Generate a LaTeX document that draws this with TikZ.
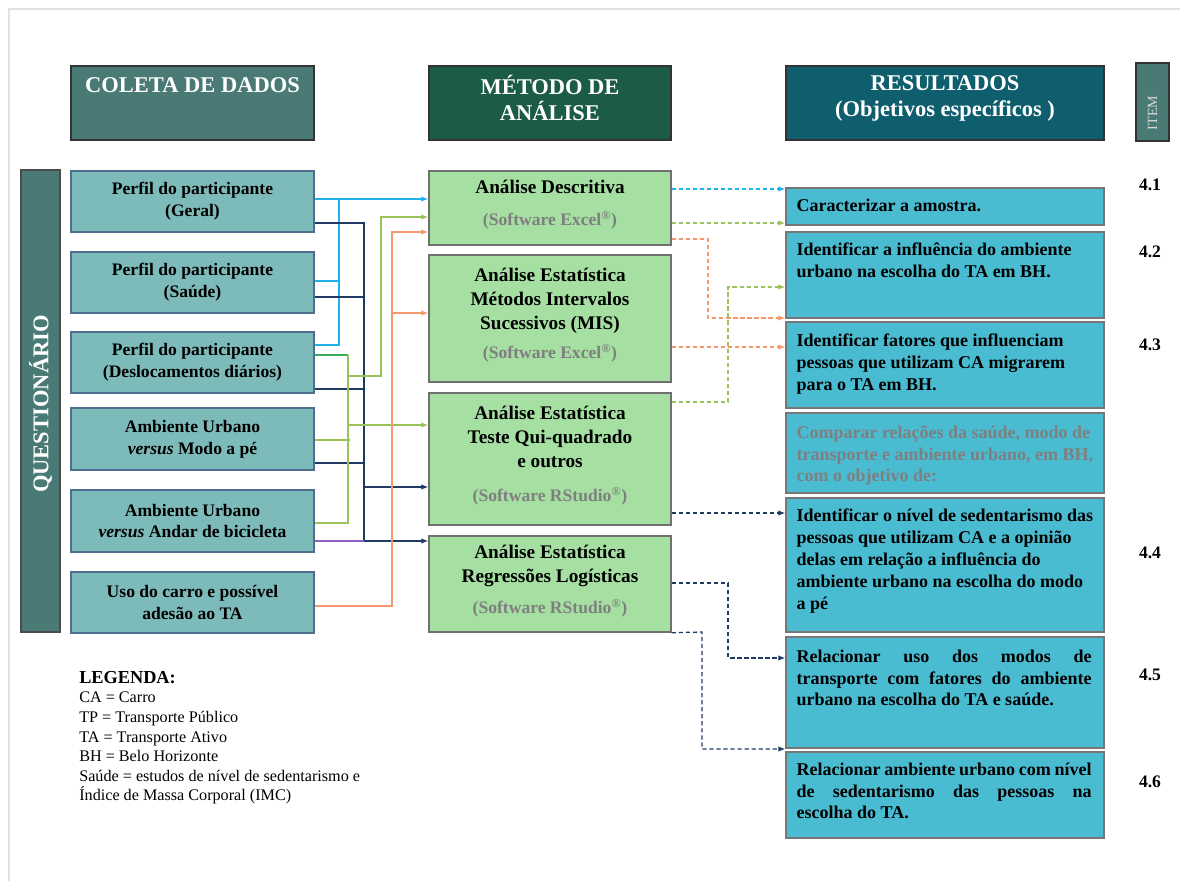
\documentclass[tikz,border=0pt]{standalone}
\usepackage{fontspec}
\setmainfont{Liberation Serif}
\usetikzlibrary{arrows.meta,calc}
% Farben
\definecolor{hdteal}{HTML}{4A7A75}
\definecolor{hdgreen}{HTML}{1C5B45}
\definecolor{hdblue}{HTML}{0F5E6E}
\definecolor{leftfill}{HTML}{7DBABA}
\definecolor{leftbd}{HTML}{4F6D8E}
\definecolor{midfill}{HTML}{A5DFA2}
\definecolor{midbd}{HTML}{707070}
\definecolor{rightfill}{HTML}{4ABCD2}
\definecolor{rightbd}{HTML}{777777}
\definecolor{cyanL}{HTML}{1EB1EC}
\definecolor{navyL}{HTML}{1F3B63}
\definecolor{oliveL}{HTML}{9BC35A}
\definecolor{orangeL}{HTML}{F7976E}
\definecolor{greenL}{HTML}{3DAA5C}
\definecolor{purpL}{HTML}{9060C0}
\definecolor{softgray}{HTML}{7F7F7F}
\newlength\pxu
\setlength\pxu{0.025cm}
\newcommand\hdfont{\fontsize{16}{18.5}\selectfont\bfseries}
\newcommand\boxfont{\fontsize{12.5}{15.6}\selectfont\bfseries}
\newcommand\midfont{\fontsize{13.7}{17}\selectfont\bfseries}
\newcommand\objfont{\fontsize{12.8}{15.6}\selectfont\bfseries}
\newcommand\softw[1]{{\fontsize{12.5}{17}\selectfont\textcolor{softgray}{(Software #1\textsuperscript{®})}}}
\newcommand\lift{\\[-10pt]\mbox{}}
\begin{document}
\begin{tikzpicture}[x=0.025cm,y=-0.025cm,
  header/.style={draw=black!80,line width=0.8pt,minimum height=74\pxu},
  coleta/.style={draw=leftbd,fill=leftfill,line width=1.2pt,minimum width=243\pxu,minimum height=61\pxu,align=center,font=\boxfont},
  metodo/.style={draw=midbd,fill=midfill,line width=1pt,minimum width=242\pxu,align=center,font=\midfont},
  result/.style={draw=rightbd,fill=rightfill,line width=1pt,minimum width=318\pxu},
  objtext/.style={anchor=north west,align=left,font=\objfont,inner sep=0pt},
  itemno/.style={font=\boxfont},
  fio/.style={line width=0.9pt},
  seta/.style={-{Latex[length=5pt,width=4pt]}},
  tracejado/.style={dash pattern=on 3pt off 2pt}]
\useasboundingbox (0,0) rectangle (1180,881);
% Rahmen
\draw[black!12,line width=1.5pt] (9,881) -- (9,9) -- (1180,9);
% Kopfzeilen
\node[header,fill=hdteal,minimum width=243\pxu] (hdcoleta) at (192.5,103) {};
\node[header,fill=hdgreen,minimum width=242\pxu] (hdmetodo) at (550,103) {};
\node[header,fill=hdblue,minimum width=318\pxu] (hdresult) at (945,103) {};
\node[header,fill=hdteal,minimum width=33\pxu,minimum height=78\pxu] (hditem) at (1152.5,102) {};
\node[text=white,font=\hdfont] (tcoleta) at (192.5,85) {COLETA DE DADOS};
\node[text=white,font=\hdfont,align=center] (tmetodo) at (550,98) {MÉTODO DE\\ANÁLISE};
\node[text=white,font=\hdfont,align=center] (tresult) at (945,98) {RESULTADOS\\(Objetivos específicos )};
\node[text=black!15,font=\fontsize{10}{12}\selectfont,rotate=90] (titem) at (1152.5,113) {ITEM};
% Fragebogen
\node[draw=black!70,fill=hdteal,line width=0.8pt,minimum width=39\pxu,minimum height=462\pxu] (quest) at (40.5,401) {};
\node[text=white,font=\hdfont,rotate=90] (tquest) at (40.5,404) {QUESTIONÁRIO};
% Datenerhebung
\node[coleta] (geral) at (192.5,201.5) {Perfil do participante\\(Geral)};
\node[coleta] (saude) at (192.5,282.5) {Perfil do participante\\(Saúde)};
\node[coleta] (desloc) at (192.5,362.5) {Perfil do participante\\(Deslocamentos diários)};
\node[coleta,minimum height=62\pxu] (ambpe) at (192.5,439) {Ambiente Urbano\\\textit{versus} Modo a pé};
\node[coleta,minimum height=62\pxu] (ambbike) at (192.5,521) {Ambiente Urbano\\\textit{versus} Andar de bicicleta};
\node[coleta] (carro) at (192.5,602.5) {Uso do carro e possível\\adesão ao TA};
% Methoden
\node[metodo,minimum height=74\pxu] (desc) at (550,208) {Análise Descritiva\\[5.5pt]\softw{Excel}\lift};
\node[metodo,minimum height=127\pxu] (mis) at (550,318.5) {Análise Estatística\\Métodos Intervalos\\Sucessivos (MIS)\\[4pt]\softw{Excel}\lift};
\node[metodo,minimum height=132\pxu] (qui) at (550,459) {Análise Estatística\\Teste Qui-quadrado\\e outros\\[7pt]\softw{RStudio}\lift};
\node[metodo,minimum height=96\pxu] (regr) at (550,584) {Análise Estatística\\Regressões Logísticas\\[5pt]\softw{RStudio}\lift};
% Ergebnisse
\node[result,minimum height=37\pxu] (obj1) at (945,206.5) {};
\node[result,minimum height=86\pxu] (obj2) at (945,275) {};
\node[result,minimum height=86\pxu] (obj3) at (945,365) {};
\node[result,minimum height=80\pxu] (obj4) at (945,453) {};
\node[result,minimum height=134\pxu] (obj5) at (945,565) {};
\node[result,minimum height=111\pxu] (obj6) at (945,692.5) {};
\node[result,minimum height=86\pxu] (obj7) at (945,795) {};
\node[objtext,anchor=west] (tobj1) at ($(obj1.west)+(11,-1)$) {Caracterizar a amostra.};
\node[objtext] (tobj2) at ($(obj2.north west)+(11,11)$) {Identificar a influência do ambiente\\urbano na escolha do TA em BH.};
\node[objtext] (tobj3) at ($(obj3.north west)+(11,12)$) {Identificar fatores que influenciam\\pessoas que utilizam CA migrarem\\para o TA em BH.};
\node[objtext,text=softgray] (tobj4) at ($(obj4.north west)+(11,13)$) {Comparar relações da saúde, modo de\\transporte e ambiente urbano, em BH,\\com o objetivo de:};
\node[objtext] (tobj5) at ($(obj5.north west)+(11,11)$) {Identificar o nível de sedentarismo das\\pessoas que utilizam CA e a opinião\\delas em relação a influência do\\ambiente urbano na escolha do modo\\a pé};
\node[objtext,align=justify,text width=295\pxu] (tobj6) at ($(obj6.north west)+(11,13)$) {Relacionar uso dos modos de\linebreak transporte com fatores do ambiente\linebreak urbano na escolha do TA e saúde.};
\node[objtext,align=justify,text width=295\pxu] (tobj7) at ($(obj7.north west)+(11,11)$) {Relacionar ambiente urbano com nível\linebreak de sedentarismo das pessoas na\linebreak escolha do TA.};
% Nummern
\node[itemno] (it1) at (1150,185) {4.1};
\node[itemno] (it2) at (1150,252) {4.2};
\node[itemno] (it3) at (1150,345) {4.3};
\node[itemno] (it4) at (1150,553) {4.4};
\node[itemno] (it5) at (1150,675) {4.5};
\node[itemno] (it6) at (1150,782) {4.6};
% Legende
\node[anchor=north west,align=left,inner sep=0pt,font=\fontsize{11.5}{13.9}\selectfont] (legenda) at (79,671)
  {{\fontsize{13}{13.9}\selectfont\bfseries LEGENDA:}\\
   CA = Carro\\
   TP = Transporte Público\\
   TA = Transporte Ativo\\
   BH = Belo Horizonte\\
   Saúde = estudos de nível de sedentarismo e\\
   Índice de Massa Corporal (IMC)};
% Verbindungen links
\coordinate (cy1) at (339,199);
\coordinate (cy2) at (339,281);
\coordinate (cy3) at (339,345);
\draw[fio,cyanL,seta] (geral.east |- cy1) -- (desc.west |- cy1);
\draw[fio,cyanL] (saude.east |- cy2) -- (cy2);
\draw[fio,cyanL] (desloc.east |- cy3) -- (cy3) -- (cy1);
\coordinate (nv1) at (364,223);
\coordinate (nv5) at (364,541);
\draw[fio,navyL] (geral.east |- nv1) -- (nv1) -- (nv5);
\draw[fio,navyL] (saude.east |- 0,297) -- (364,297);
\draw[fio,navyL] (desloc.east |- 0,389) -- (364,389);
\draw[fio,navyL] (ambpe.east |- 0,463) -- (364,463);
\draw[fio,purpL] (ambbike.east |- nv5) -- (nv5);
\draw[fio,navyL,seta] (364,487) -- (qui.west |- 0,487);
\draw[fio,navyL,seta] (nv5) -- (regr.west |- nv5);
\coordinate (gr1) at (348,355);
\coordinate (gr5) at (348,523);
\draw[fio,greenL] (desloc.east |- gr1) -- (gr1);
\draw[fio,oliveL] (gr1) -- (gr5) -- (ambbike.east |- gr5);
\draw[fio,oliveL] (ambpe.east |- 0,440) -- (350,440);
\draw[fio,oliveL,seta] (348,376) -- (381,376) -- (381,217) -- (desc.west |- 0,217);
\draw[fio,oliveL,seta] (348,425) -- (qui.west |- 0,425);
\coordinate (or1) at (392,232);
\coordinate (or6) at (392,606);
\draw[fio,orangeL,seta] (carro.east |- or6) -- (or6) -- (or1) -- (desc.west |- or1);
\draw[fio,orangeL,seta] (392,313) -- (mis.west |- 0,313);
% Verbindungen rechts
\draw[fio,tracejado,cyanL,seta] (desc.east |- 0,189) -- (obj1.west |- 0,189);
\draw[fio,tracejado,oliveL,seta] (desc.east |- 0,223) -- (obj1.west |- 0,223);
\draw[fio,tracejado,orangeL,seta] (desc.east |- 0,239) -- (708,239) -- (708,318) -- (obj3.west |- 0,318);
\draw[fio,tracejado,oliveL,seta] (qui.east |- 0,402) -- (728,402) -- (728,287) -- (obj2.west |- 0,287);
\draw[fio,tracejado,orangeL,seta] (mis.east |- 0,347) -- (obj3.west |- 0,347);
\draw[fio,tracejado,navyL,seta] (qui.east |- 0,513) -- (obj5.west |- 0,513);
\draw[fio,tracejado,navyL,seta] (regr.east |- 0,583) -- (728,583) -- (728,658) -- (obj6.west |- 0,658);
\draw[fio,tracejado,navyL,seta] (regr.south east) -- (702,632) -- (702,749) -- (obj7.west |- 0,749);
\end{tikzpicture}
\end{document}
